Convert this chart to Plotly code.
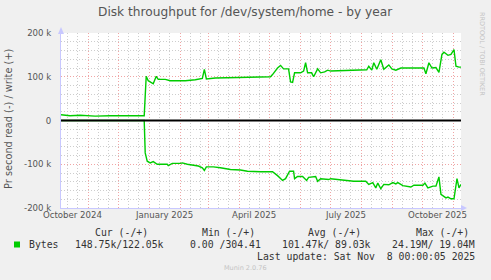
import plotly.graph_objects as go
import pandas as pd

# ---------------- data ----------------
write_dates = ["2024-10-05", "2024-10-14", "2024-10-24", "2024-11-08", "2024-11-23", "2024-12-08",
               "2024-12-27", "2024-12-29", "2024-12-31", "2025-01-05", "2025-01-08", "2025-01-10",
               "2025-01-17", "2025-01-22", "2025-02-06", "2025-02-16", "2025-02-19", "2025-02-23",
               "2025-02-25", "2025-02-27", "2025-03-08", "2025-03-26", "2025-04-02", "2025-04-12",
               "2025-04-24", "2025-05-02", "2025-05-04", "2025-05-09", "2025-05-12", "2025-05-15",
               "2025-05-20", "2025-05-22", "2025-05-24", "2025-05-26", "2025-06-01", "2025-06-04",
               "2025-06-06", "2025-06-08", "2025-06-12", "2025-06-14", "2025-06-18", "2025-06-21",
               "2025-06-25", "2025-06-28", "2025-07-01", "2025-07-16", "2025-07-31", "2025-08-06",
               "2025-08-08", "2025-08-11", "2025-08-13", "2025-08-16", "2025-08-20", "2025-08-23",
               "2025-08-28", "2025-08-31", "2025-09-04", "2025-09-09", "2025-10-02", "2025-10-04",
               "2025-10-07", "2025-10-10", "2025-10-14", "2025-10-17", "2025-10-20", "2025-10-22",
               "2025-10-26", "2025-10-29", "2025-11-01", "2025-11-03", "2025-11-06", "2025-11-08"]
write_k = [13, 11, 12, 10, 11, 11,
           11, 101, 91, 84, 101, 94,
           94, 91, 91, 93, 95, 96,
           117, 95, 97, 98, 100, 100,
           100, 100, 105, 120, 126, 118,
           118, 88, 87, 109, 109, 113,
           132, 109, 109, 100, 118, 109,
           111, 115, 113, 114, 114, 116,
           124, 115, 132, 117, 139, 117,
           127, 118, 115, 120, 120, 107,
           132, 120, 121, 110, 151, 156,
           149, 151, 162, 124, 122, 122]

read_dates = ["2024-10-05", "2024-12-27", "2024-12-28", "2024-12-30", "2025-01-02", "2025-01-05",
              "2025-01-09", "2025-01-19", "2025-01-20", "2025-01-24", "2025-02-01", "2025-02-03",
              "2025-02-08", "2025-02-14", "2025-02-19", "2025-02-23", "2025-02-25", "2025-02-27",
              "2025-03-06", "2025-03-13", "2025-03-23", "2025-04-02", "2025-04-09", "2025-04-22",
              "2025-05-04", "2025-05-09", "2025-05-14", "2025-05-17", "2025-05-21", "2025-05-25",
              "2025-05-26", "2025-05-29", "2025-06-03", "2025-06-07", "2025-06-09", "2025-06-16",
              "2025-06-18", "2025-06-21", "2025-06-29", "2025-07-01", "2025-07-11", "2025-07-24",
              "2025-08-05", "2025-08-08", "2025-08-12", "2025-08-15", "2025-08-17", "2025-08-20",
              "2025-08-23", "2025-08-28", "2025-09-01", "2025-09-04", "2025-09-06", "2025-09-11",
              "2025-09-19", "2025-09-22", "2025-10-01", "2025-10-03", "2025-10-06", "2025-10-11",
              "2025-10-14", "2025-10-17", "2025-10-19", "2025-10-24", "2025-10-26", "2025-10-29",
              "2025-11-01", "2025-11-04", "2025-11-06", "2025-11-08"]
read_k = [0, 0, -74, -93, -97, -94,
          -100, -100, -103, -98, -98, -97,
          -100, -103, -104, -108, -114, -106,
          -106, -108, -112, -113, -116, -117,
          -117, -126, -137, -133, -116, -116,
          -133, -128, -128, -137, -130, -128,
          -139, -133, -135, -133, -135, -139,
          -139, -146, -142, -154, -143, -156,
          -146, -147, -142, -145, -142, -149,
          -152, -148, -148, -143, -154, -150,
          -150, -129, -169, -177, -175, -179,
          -179, -133, -154, -146]

y_tickvals = [-200000, -100000, 0, 100000, 200000]
y_ticktext = ["-200 k", "-100 k", "0", "100 k", "200 k"]
x_label_dates = ["2024-10-16", "2025-01-16", "2025-04-16", "2025-07-16", "2025-10-16"]
x_label_text = ["October 2024", "January 2025", "April 2025", "July 2025", "October 2025"]

title_text = "Disk throughput for /dev/system/home - by year"
ytitle_text = "Pr second read (-) / write (+)"
legend_headers = ["Cur (-/+)", "Min (-/+)", "Avg (-/+)", "Max (-/+)"]
legend_values = ["148.75k/122.05k", "0.00 /304.41", "101.47k/ 89.03k", "24.19M/ 19.04M"]
series_name = "Bytes"
last_update = "Last update: Sat Nov&nbsp; 8 00:00:05 2025"
watermark = "RRDTOOL / TOBI OETIKER"
munin_ver = "Munin 2.0.76"

# ---------------- layout geometry ----------------
W, H = 491, 280
L, R, T, B = 61, 30, 33, 72
PW, PH = W - L - R, H - T - B

def px(x):
    return (x - L) / PW

def py(y):
    return (H - B - y) / PH

GREEN = "#00CC00"
RED_GRID = "rgb(240,165,165)"
GREY_GRID = "rgb(205,205,205)"
AXIS_COL = "#C8C8FF"
TXT = "#333333"
LABEL = "#555555"
FONT = "DejaVu Sans"
MONO = "DejaVu Sans Mono"
DOT = "1px,2px"

x_start, x_end = "2024-10-05", "2025-11-08"
month_starts = [d.strftime("%Y-%m-%d") for d in pd.date_range("2024-11-01", "2025-11-01", freq="MS")]
minor_days = [d.strftime("%Y-%m-%d") for d in pd.date_range("2024-10-01", "2025-11-30", freq="D")
              if d.day in (11, 21)]

fig = go.Figure()
fig.add_trace(go.Scatter(x=pd.to_datetime(write_dates), y=[v * 1000 for v in write_k], mode="lines",
                         line=dict(color=GREEN, width=1.4), showlegend=False))
fig.add_trace(go.Scatter(x=pd.to_datetime(read_dates), y=[v * 1000 for v in read_k], mode="lines",
                         line=dict(color=GREEN, width=1.4), showlegend=False))

fig.update_layout(
    width=W, height=H, margin=dict(l=L, r=R, t=T, b=B, pad=0),
    paper_bgcolor="#F0F0F0", plot_bgcolor="#FFFFFF",
    showlegend=False,
    xaxis=dict(type="date", range=[x_start, x_end], tickmode="array", tickvals=month_starts,
               showticklabels=False, ticks="", showgrid=True, gridcolor=RED_GRID, griddash=DOT,
               gridwidth=1, zeroline=False, showline=True, linecolor=AXIS_COL, linewidth=1,
               minor=dict(tickmode="array", tickvals=minor_days, showgrid=True,
                          gridcolor=GREY_GRID, griddash=DOT, gridwidth=1, ticks="")),
    yaxis=dict(range=[-200000, 200000], tickmode="array", tickvals=y_tickvals, ticktext=y_ticktext,
               ticks="", ticklabelstandoff=7, showgrid=True, gridcolor=RED_GRID, griddash=DOT,
               gridwidth=1, zeroline=False, showline=True, linecolor=AXIS_COL, linewidth=1,
               tickfont=dict(family=FONT, size=8.6, color=LABEL),
               minor=dict(dtick=20000, showgrid=True, gridcolor=GREY_GRID, griddash=DOT,
                          gridwidth=1, ticks="")),
)

shapes = []
# zero line
shapes.append(dict(type="line", xref="paper", yref="y", x0=0, x1=1, y0=0, y1=0,
                   line=dict(color="black", width=2), layer="above"))
# axis arrows
shapes.append(dict(type="path", xref="paper", yref="paper",
                   path=f"M {px(58)} {py(34)} L {px(61)} {py(27)} L {px(64)} {py(34)} Z",
                   fillcolor=AXIS_COL, line=dict(width=0)))
shapes.append(dict(type="path", xref="paper", yref="paper",
                   path=f"M {px(461)} {py(205)} L {px(467)} {py(208)} L {px(461)} {py(211)} Z",
                   fillcolor=AXIS_COL, line=dict(width=0)))
# legend swatch
shapes.append(dict(type="rect", xref="paper", yref="paper", x0=px(14), x1=px(20), y0=py(241.5), y1=py(247.5),
                   fillcolor=GREEN, line=dict(width=0)))
fig.update_layout(shapes=shapes)

ann = []
ann.append(dict(text=title_text, xref="paper", yref="paper", x=px(245), y=py(12), showarrow=False,
                xanchor="center", yanchor="middle", font=dict(family=FONT, size=12.2, color=LABEL)))
ann.append(dict(text=ytitle_text, xref="paper", yref="paper", x=px(8), y=py(119), showarrow=False,
                textangle=-90, xanchor="center", yanchor="middle",
                font=dict(family=FONT, size=9.8, color=LABEL)))
ann.append(dict(text=watermark, xref="paper", yref="paper", x=px(482), y=py(54), showarrow=False,
                textangle=90, xanchor="center", yanchor="middle",
                font=dict(family=FONT, size=6.5, color="#C4C4C4")))
for d, t in zip(x_label_dates, x_label_text):
    ann.append(dict(text=t, xref="x", yref="paper", x=d, y=py(215.3), showarrow=False,
                    xanchor="center", yanchor="middle", font=dict(family=FONT, size=8.6, color=LABEL)))
header_right = [150, 257, 363, 471]
value_right = [165.7, 263, 372.7, 476.7]
for h, xr in zip(legend_headers, header_right):
    ann.append(dict(text=h, xref="paper", yref="paper", x=px(xr), y=py(232.7), showarrow=False,
                    xanchor="right", yanchor="middle", font=dict(family=MONO, size=9.8, color=TXT)))
for v, xr in zip(legend_values, value_right):
    ann.append(dict(text=v, xref="paper", yref="paper", x=px(xr), y=py(244.3), showarrow=False,
                    xanchor="right", yanchor="middle", font=dict(family=MONO, size=9.8, color=TXT)))
ann.append(dict(text=series_name, xref="paper", yref="paper", x=px(26.5), y=py(244.3), showarrow=False,
                xanchor="left", yanchor="middle", font=dict(family=MONO, size=9.8, color=TXT)))
ann.append(dict(text=last_update, xref="paper", yref="paper", x=px(476.7), y=py(256.7), showarrow=False,
                xanchor="right", yanchor="middle", font=dict(family=MONO, size=9.8, color=TXT)))
ann.append(dict(text=munin_ver, xref="paper", yref="paper", x=px(245), y=py(268.3), showarrow=False,
                xanchor="center", yanchor="middle", font=dict(family=FONT, size=6.5, color="#C4C4C4")))
fig.update_layout(annotations=ann)

fig.write_html("out.html")
